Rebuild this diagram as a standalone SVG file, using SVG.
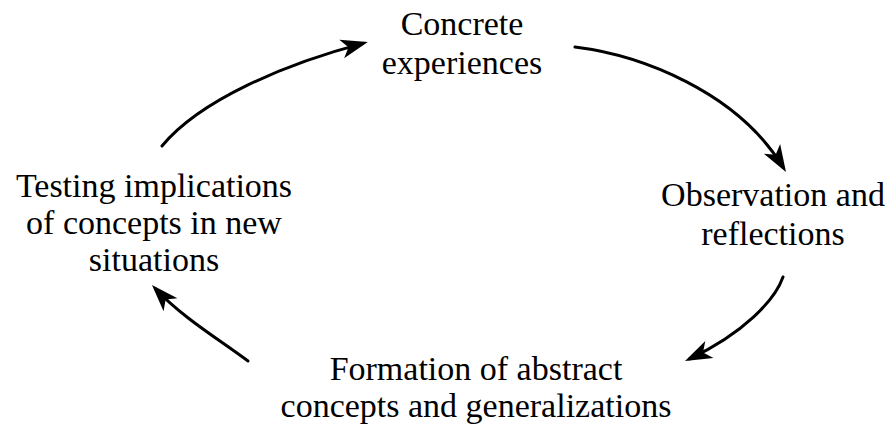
<svg xmlns="http://www.w3.org/2000/svg" width="894" height="430" viewBox="0 0 894 430">
<defs>
<style>
text{font-size:34px;fill:#000;text-anchor:middle}
.arc{fill:none;stroke:#000;stroke-width:3;stroke-linecap:round}
</style>
<marker id="head" markerUnits="userSpaceOnUse" orient="auto" markerWidth="34" markerHeight="24" viewBox="-30 -12 34 24" refX="-5" refY="0">
<path d="M0,0 L-27,-9.5 L-20,0 L-27,9.5 Z" fill="#000"/>
</marker>
</defs>
<rect width="894" height="430" fill="#fff"/>
<g id="n1" font-family="Liberation Serif, Noto Serif CJK SC, DejaVu Serif, serif"><text x="462" y="35">Concrete</text><text x="462" y="74">experiences</text></g>
<g id="n2" font-family="Liberation Serif, Noto Serif CJK SC, DejaVu Serif, serif"><text x="773" y="206">Observation and</text><text x="773" y="245">reflections</text></g>
<g id="n3" font-family="Liberation Serif, Noto Serif CJK SC, DejaVu Serif, serif"><text x="476" y="380">Formation of abstract</text><text x="476" y="417">concepts and generalizations</text></g>
<g id="n4" font-family="Liberation Serif, Noto Serif CJK SC, DejaVu Serif, serif"><text x="154" y="197">Testing implications</text><text x="154" y="234">of concepts in new</text><text x="154" y="271">situations</text></g>
<g id="connectors">
<path class="arc" marker-end="url(#head)" d="M162,146 C200,100 285,64 363,43.4"/>
<path class="arc" marker-end="url(#head)" d="M575,47 C640,55 737,91 783.4,167.7"/>
<path class="arc" marker-end="url(#head)" d="M783,277 C775,300 744,333 689.5,358.9"/>
<path class="arc" marker-end="url(#head)" d="M248,361 C220,340 183,318 155.4,288.7"/>
</g>
</svg>
